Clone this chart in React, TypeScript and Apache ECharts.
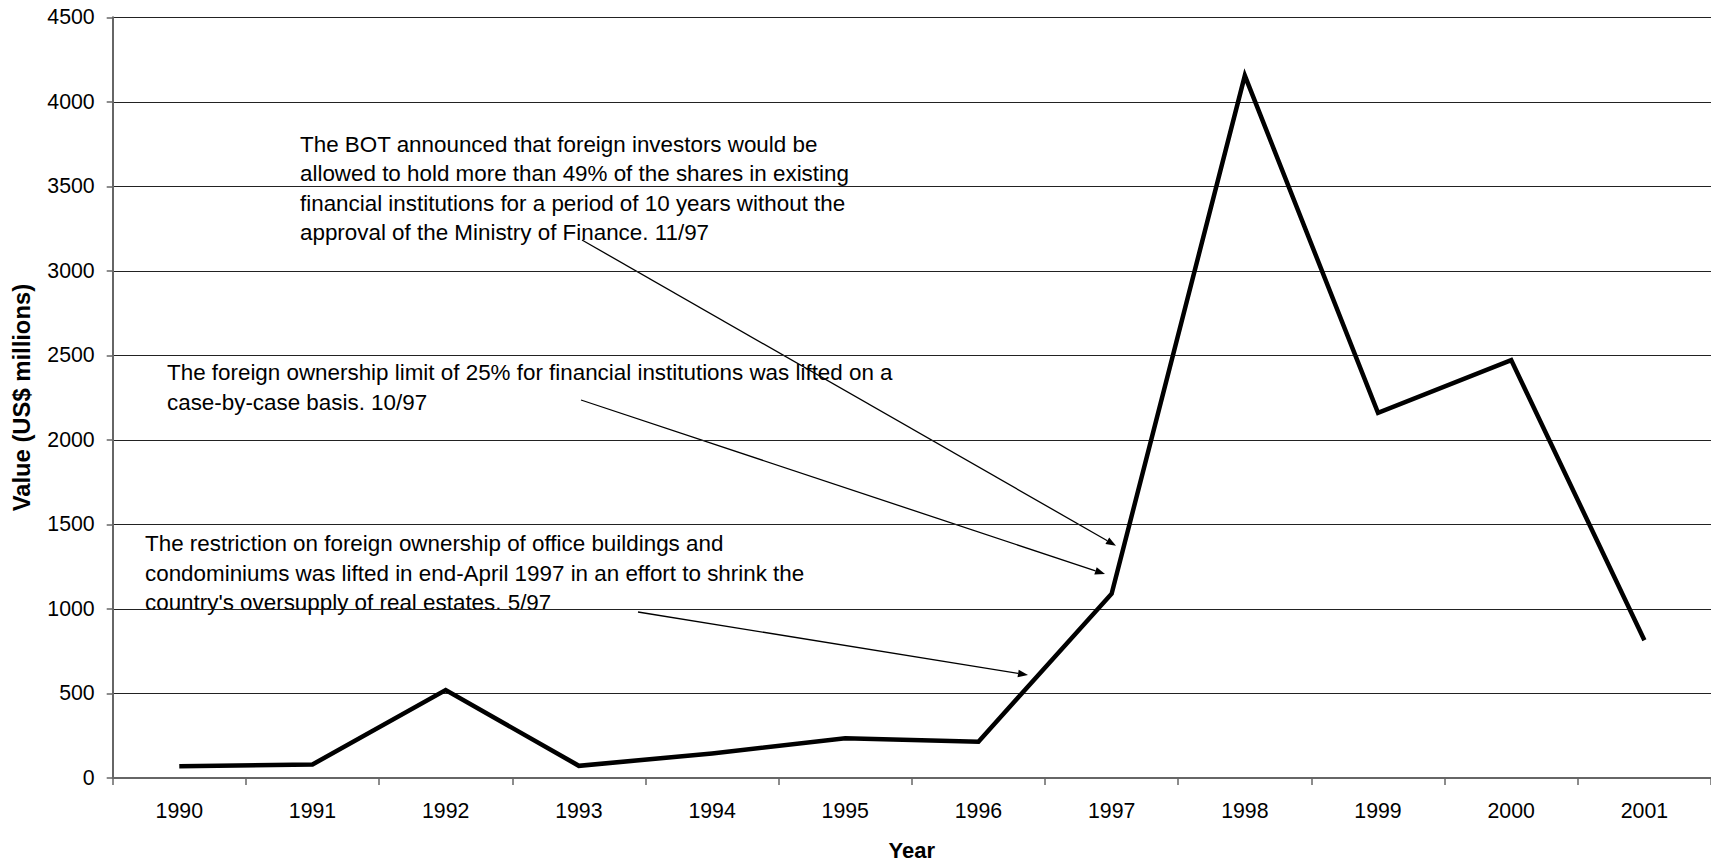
import React, { useEffect, useRef } from "react";
import * as echarts from "echarts";

const years = ["1990", "1991", "1992", "1993", "1994", "1995", "1996", "1997", "1998", "1999", "2000", "2001"];
const values = [70, 80, 520, 72, 145, 235, 215, 1090, 4155, 2160, 2472, 815];
const yMin = 0;
const yMax = 4500;
const yInterval = 500;

const noteBOT = [
  "The BOT announced that foreign investors would be",
  "allowed to hold more than 49% of the shares in existing",
  "financial institutions for a period of 10 years without the",
  "approval of the Ministry of Finance. 11/97",
];
const noteLimit = [
  "The foreign ownership limit of 25% for financial institutions was lifted on a",
  "case-by-case basis. 10/97",
];
const noteRestriction = [
  "The restriction on foreign ownership of office buildings and",
  "condominiums was lifted in end-April 1997 in an effort to shrink the",
  "country's oversupply of real estates. 5/97",
];

const FONT = '"Liberation Sans", Arial, Helvetica, sans-serif';

function arrow(x1: number, y1: number, x2: number, y2: number) {
  const dx = x2 - x1;
  const dy = y2 - y1;
  const len = Math.sqrt(dx * dx + dy * dy);
  const ux = dx / len;
  const uy = dy / len;
  const hl = 10;
  const hw = 3.8;
  const bx = x2 - ux * hl;
  const by = y2 - uy * hl;
  return {
    type: "group",
    children: [
      {
        type: "line",
        shape: { x1, y1, x2: bx, y2: by },
        style: { stroke: "#000", lineWidth: 1.3 },
      },
      {
        type: "polygon",
        shape: {
          points: [
            [x2, y2],
            [bx - uy * hw, by + ux * hw],
            [bx + uy * hw, by - ux * hw],
          ],
        },
        style: { fill: "#000" },
      },
    ],
  };
}

function note(lines: string[], x: number, y: number) {
  return {
    type: "text",
    x,
    y,
    style: {
      text: lines.join("\n"),
      fontFamily: FONT,
      fontSize: 22.4,
      lineHeight: 29.5,
      fill: "#000",
      align: "left",
      verticalAlign: "top",
    },
  };
}

export default function App() {
  const ref = useRef<HTMLDivElement>(null);

  useEffect(() => {
    if (!ref.current) return;
    const chart = echarts.init(ref.current, undefined, { renderer: "svg" });
    chart.setOption({
      animation: false,
      backgroundColor: "#fff",
      grid: { left: 112.7, right: -3.7, top: 17.3, bottom: 85.3, containLabel: false },
      xAxis: {
        type: "category",
        data: years,
        boundaryGap: true,
        name: "Year",
        nameLocation: "middle",
        nameGap: 61,
        nameTextStyle: { fontFamily: FONT, fontSize: 22, fontWeight: "bold", color: "#000" },
        axisLine: { show: true, lineStyle: { color: "#666", width: 2 } },
        axisTick: { show: true, length: 7, lineStyle: { color: "#666", width: 1.5 } },
        axisLabel: { fontFamily: FONT, fontSize: 21.3, color: "#000", margin: 22 },
        splitLine: { show: false },
      },
      yAxis: {
        type: "value",
        min: yMin,
        max: yMax,
        interval: yInterval,
        name: "Value (US$ millions)",
        nameLocation: "middle",
        nameGap: 79,
        nameTextStyle: { fontFamily: FONT, fontSize: 23.8, fontWeight: "bold", color: "#000" },
        axisLine: { show: true, lineStyle: { color: "#666", width: 2 } },
        axisTick: { show: true, length: 6, lineStyle: { color: "#666", width: 1.5 } },
        axisLabel: {
          fontFamily: FONT,
          fontSize: 21.3,
          color: "#000",
          margin: 18,
          formatter: (v: number) => String(v),
        },
        splitLine: { show: true, lineStyle: { color: "#222", width: 1 } },
      },
      series: [
        {
          type: "line",
          data: values,
          symbol: "none",
          lineStyle: { color: "#000", width: 4.5, join: "miter", cap: "butt" },
          z: 3,
        },
      ],
      graphic: [
        note(noteBOT, 300, 129.3),
        note(noteLimit, 167, 358),
        note(noteRestriction, 145, 529),
        arrow(582, 240, 1116, 545.7),
        arrow(581, 400, 1105, 574),
        arrow(638, 612, 1028, 675),
      ],
    });
    return () => chart.dispose();
  }, []);

  return (
    <div
      ref={ref}
      style={{ position: "absolute", left: 0, top: 0, width: 1711, height: 866, background: "#fff" }}
    />
  );
}
